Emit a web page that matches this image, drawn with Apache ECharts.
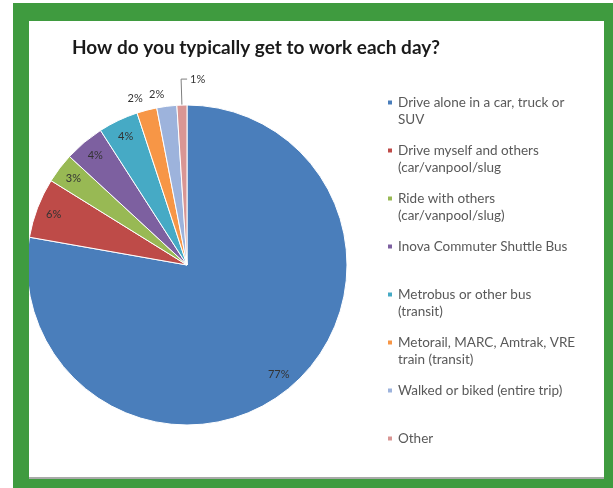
<!DOCTYPE html>
<html><head><meta charset="utf-8">
<script src="https://cdn.jsdelivr.net/npm/echarts@6/dist/echarts.min.js"></script>
<style>
html,body{margin:0;padding:0;background:#fff;}
#frame{position:absolute;left:13px;top:3px;width:600px;height:485px;background:#3f9b3f;}
#chart{position:absolute;left:29px;top:21px;width:575px;height:456px;background:#fff;border-bottom:2px solid #a9aaa9;}
</style></head><body>
<div id="frame"></div><div id="chart"></div>
<script>
const titleText = 'How do you typically get to work each day?';
const categories = [
  'Drive alone in a car, truck or SUV',
  'Drive myself and others (car/vanpool/slug',
  'Ride with others (car/vanpool/slug)',
  'Inova Commuter Shuttle Bus',
  'Metrobus or other bus (transit)',
  'Metorail, MARC, Amtrak, VRE train (transit)',
  'Walked or biked (entire trip)',
  'Other'
];
const values = [77, 6, 3, 4, 4, 2, 2, 1];
const legendLines = [
  'Drive alone in a car, truck or\nSUV',
  'Drive myself and others\n(car/vanpool/slug',
  'Ride with others\n(car/vanpool/slug)',
  'Inova Commuter Shuttle Bus\n ',
  'Metrobus or other bus\n(transit)',
  'Metorail, MARC, Amtrak, VRE\ntrain (transit)',
  'Walked or biked (entire trip)\n ',
  'Other\n '
];
const colors = ['#4a7ebb', '#be4b48', '#98b954', '#7d60a0', '#46aac5', '#f79646', '#9db3dc', '#d99694'];
const labelPlacement = ['inside', 'inside', 'inside', 'inside', 'inside', 'outside', 'outside', 'outsideRight'];

const CENTER = [158, 244];
const RADIUS = 160;

const chart = echarts.init(document.getElementById('chart'), null, {renderer: 'canvas'});
const data = categories.map((name, i) => {
  const item = {name: name, value: values[i], itemStyle: {color: colors[i]}};
  if (labelPlacement[i] === 'inside') {
    item.label = {position: 'inside'};
  } else if (labelPlacement[i] === 'outside') {
    item.label = {position: 'outside', distanceToLabelLine: 1};
    item.labelLine = {show: false, length: 12, length2: 0};
  } else {
    item.label = {position: 'outside', distanceToLabelLine: 3};
    item.labelLine = {show: true, length: 26, length2: 6, lineStyle: {color: '#7f7f7f', width: 1}};
  }
  return item;
});

chart.setOption({
  animation: false,
  title: {
    text: titleText, left: 38, top: 12,
    textStyle: {fontFamily: 'Lato', fontWeight: 'bold', fontSize: 19, color: '#1a1a1a'}
  },
  legend: {
    orient: 'vertical', left: 352, top: 68,
    itemWidth: 6, itemHeight: 23, itemGap: 14,
    icon: 'path://M0,0h6v6h-6z M0,22.99h0.01v0.01h-0.01z',
    formatter: name => legendLines[categories.indexOf(name)],
    textStyle: {fontFamily: 'Lato', fontSize: 13.5, lineHeight: 17, color: '#595959'},
    selectedMode: false
  },
  series: [{
    type: 'pie',
    center: CENTER,
    radius: RADIUS,
    startAngle: 90,
    clockwise: true,
    avoidLabelOverlap: false,
    itemStyle: {borderColor: '#fff', borderWidth: 1},
    label: {formatter: '{c}%', fontFamily: 'Lato', fontSize: 11, color: '#333'},
    emphasis: {disabled: true},
    data: data,
    labelLayout: function (p) {
      const kind = labelPlacement[p.dataIndex];
      if (kind === 'inside') {
        const cx = p.labelRect.x + p.labelRect.width / 2;
        const cy = p.labelRect.y + p.labelRect.height / 2;
        return {
          x: CENTER[0] + (cx - CENTER[0]) * 1.72,
          y: CENTER[1] + (cy - CENTER[1]) * 1.72,
          align: 'center', verticalAlign: 'middle'
        };
      }
      if (kind === 'outsideRight' && p.labelLinePoints) {
        const pts = p.labelLinePoints;
        const p1 = pts[1], p2 = pts[2];
        const np2 = [p1[0] + (p1[0] - p2[0]), p2[1]];
        return {
          x: np2[0] + 3, y: np2[1], align: 'left', verticalAlign: 'middle',
          labelLinePoints: [pts[0], p1, np2]
        };
      }
      return {};
    }
  }]
});
</script>
</body></html>
